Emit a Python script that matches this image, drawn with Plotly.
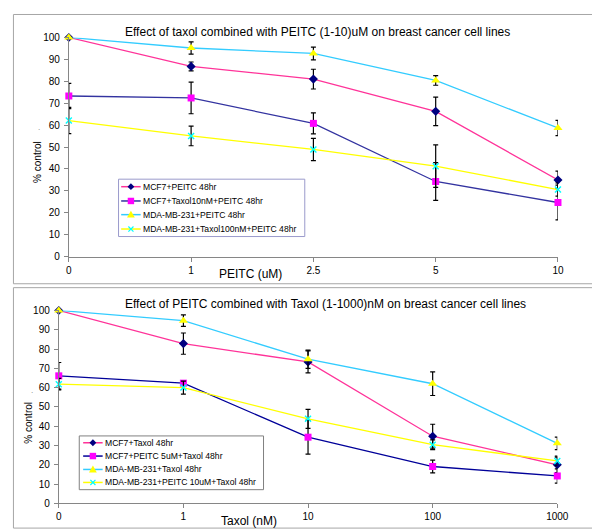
import plotly.graph_objects as go

W, H = 600, 530

# ---------------- data: top panel (PEITC dose) ----------------
top_x = ["0", "1", "2.5", "5", "10"]
top_names = ["MCF7+PEITC 48hr", "MCF7+Taxol10nM+PEITC 48hr",
             "MDA-MB-231+PEITC 48hr", "MDA-MB-231+Taxol100nM+PEITC 48hr"]
top_mcf7 = [100, 86.8, 81.0, 66.3, 35.0]
top_mcf7_err = [0, 2.0, 4.5, 6.5, 4.0]
top_mcf7_taxol = [73.3, 72.4, 60.8, 34.3, 24.7]
top_mcf7_taxol_err = [5.8, 7.2, 4.8, 8.6, 7.9]
top_mda = [100, 95.2, 92.7, 80.4, 58.7]
top_mda_err = [0, 2.8, 2.9, 2.2, 3.5]
top_mda_taxol = [62.1, 55.1, 48.9, 41.3, 30.6]
top_mda_taxol_err = [6.0, 4.5, 5.1, 9.7, 3.0]

# ---------------- data: bottom panel (Taxol dose) ----------------
bot_x = ["0", "1", "10", "100", "1000"]
bot_names = ["MCF7+Taxol 48hr", "MCF7+PEITC 5uM+Taxol 48hr",
             "MDA-MB-231+Taxol 48hr", "MDA-MB-231+PEITC 10uM+Taxol 48hr"]
bot_mcf7 = [100, 82.8, 73.3, 34.8, 20.0]
bot_mcf7_err = [0, 5.5, 5.7, 6.2, 4.0]
bot_mcf7_peitc = [66.1, 62.3, 34.3, 19.1, 14.2]
bot_mcf7_peitc_err = [6.9, 1.0, 8.8, 3.3, 3.7]
bot_mda = [100, 94.7, 74.7, 62.0, 31.1]
bot_mda_err = [0, 3.0, 4.7, 6.1, 3.2]
bot_mda_peitc = [61.8, 60.0, 43.8, 30.4, 22.0]
bot_mda_peitc_err = [3.0, 3.4, 4.9, 2.5, 2.5]

top_title = "Effect of taxol combined with PEITC (1-10)uM on breast cancer cell lines"
bot_title = "Effect of PEITC combined with Taxol (1-1000)nM on breast cancer cell lines"
top_xlabel = "PEITC (uM)"
bot_xlabel = "Taxol (nM)"
ylabel = "% control"

FONT = "Arial, Liberation Sans, sans-serif"
PINK = "#FF3399"
NAVY = "#000080"
MAGENTA = "#FF00FF"
CYAN_LINE = "#33CCFF"
YELLOW = "#FFFF00"
CYAN = "#00FFFF"
AXIS = "#868686"


def px(v):
    return v / W


def py(v):
    return 1 - v / H


styles_top = [
    dict(line=PINK, symbol="diamond", mcolor=NAVY, size=7),
    dict(line="#3333A0", symbol="square", mcolor=MAGENTA, size=7),
    dict(line=CYAN_LINE, symbol="triangle-up", mcolor=YELLOW, size=8),
    dict(line=YELLOW, symbol="x-thin", mcolor=CYAN, size=6),
]
styles_bot = [
    dict(line=PINK, symbol="diamond", mcolor=NAVY, size=7),
    dict(line="#000099", symbol="square", mcolor=MAGENTA, size=7),
    dict(line=CYAN_LINE, symbol="triangle-up", mcolor=YELLOW, size=8),
    dict(line=YELLOW, symbol="x-thin", mcolor=CYAN, size=6),
]

fig = go.Figure()


def add_series(x, y, err, name, st, xa, ya):
    mk = dict(symbol=st["symbol"], color=st["mcolor"], size=st["size"])
    if st["symbol"] == "x-thin":
        mk["line"] = dict(color=st["mcolor"], width=1.4)
    else:
        mk["line"] = dict(width=0)
    fig.add_trace(go.Scatter(
        x=x, y=y, name=name, mode="lines+markers", showlegend=False,
        line=dict(color=st["line"], width=1.3),
        marker=mk,
        error_y=dict(type="data", array=err, color="black", thickness=1.2, width=2.5),
        xaxis=xa, yaxis=ya, cliponaxis=False,
    ))


top_series = [top_mcf7, top_mcf7_taxol, top_mda, top_mda_taxol]
top_errs = [top_mcf7_err, top_mcf7_taxol_err, top_mda_err, top_mda_taxol_err]
for y, e, n, st in zip(top_series, top_errs, top_names, styles_top):
    add_series(top_x, y, e, n, st, "x", "y")

bot_series = [bot_mcf7, bot_mcf7_peitc, bot_mda, bot_mda_peitc]
bot_errs = [bot_mcf7_err, bot_mcf7_peitc_err, bot_mda_err, bot_mda_peitc_err]
for y, e, n, st in zip(bot_series, bot_errs, bot_names, styles_bot):
    add_series(bot_x, y, e, n, st, "x2", "y2")

shapes = []
annotations = []

# panel frames
for (x0, y0, x1, y1) in [(2.5, 0.5, 598.5, 276), (2.5, 280, 598.5, 526)]:
    shapes.append(dict(type="rect", xref="paper", yref="paper",
                       x0=px(x0), x1=px(x1), y0=py(y1), y1=py(y0),
                       line=dict(color="#A6A6A6", width=1), layer="below"))


def marker_path(sym, cx, cy):
    if sym == "diamond":
        r = 3.5
        pts = [(cx, cy - r), (cx + r, cy), (cx, cy + r), (cx - r, cy)]
    elif sym == "square":
        r = 3.3
        pts = [(cx - r, cy - r), (cx + r, cy - r), (cx + r, cy + r), (cx - r, cy + r)]
    elif sym == "triangle-up":
        pts = [(cx, cy - 4), (cx + 4, cy + 3), (cx - 4, cy + 3)]
    else:
        r = 2.6
        return ("M%.5f,%.5f L%.5f,%.5f M%.5f,%.5f L%.5f,%.5f" % (
            px(cx - r), py(cy - r), px(cx + r), py(cy + r),
            px(cx - r), py(cy + r), px(cx + r), py(cy - r)))
    return "M" + " L".join("%.5f,%.5f" % (px(a), py(b)) for a, b in pts) + " Z"


def add_legend(box, rows, lx0, lx1, tx, names, styles, border):
    x0, y0, x1, y1 = box
    shapes.append(dict(type="rect", xref="paper", yref="paper",
                       x0=px(x0), x1=px(x1), y0=py(y1), y1=py(y0),
                       line=dict(color=border, width=1), fillcolor="white", layer="above"))
    for ry, name, st in zip(rows, names, styles):
        shapes.append(dict(type="line", xref="paper", yref="paper",
                           x0=px(lx0), x1=px(lx1), y0=py(ry), y1=py(ry),
                           line=dict(color=st["line"], width=1.5), layer="above"))
        cx = (lx0 + lx1) / 2
        if st["symbol"] == "x-thin":
            shapes.append(dict(type="path", xref="paper", yref="paper",
                               path=marker_path(st["symbol"], cx, ry),
                               line=dict(color=st["mcolor"], width=1.2), layer="above"))
        else:
            shapes.append(dict(type="path", xref="paper", yref="paper",
                               path=marker_path(st["symbol"], cx, ry),
                               line=dict(width=0), fillcolor=st["mcolor"], layer="above"))
        annotations.append(dict(text=name, xref="paper", yref="paper", x=px(tx), y=py(ry),
                                xanchor="left", yanchor="middle", showarrow=False,
                                borderpad=0, font=dict(size=8.6, color="black", family=FONT)))


add_legend((110.3, 169, 301.3, 227.7), [176.7, 191.3, 205.3, 220.0], 113, 133, 134.5,
           top_names, styles_top, "#9A9ACC")
add_legend((70, 431.7, 259, 486.7), [438.7, 452.3, 466.0, 479.3], 74, 94, 95.2,
           bot_names, styles_bot, "#808080")


def text(t, x, y, size, angle=0, color="black"):
    annotations.append(dict(text=t, xref="paper", yref="paper", x=px(x), y=py(y),
                            xanchor="center", yanchor="middle", showarrow=False,
                            textangle=angle, font=dict(size=size, color=color, family=FONT)))


text(top_title, 314, 18.3, 12)
text(bot_title, 322.5, 296.7, 12)
text(top_xlabel, 245.5, 266.5, 12)
text(bot_xlabel, 244, 518.3, 12)
text(ylabel, 27.3, 151.7, 10, -90)
text(ylabel, 18.3, 418.3, 10, -90)
text(".", 29, 116, 8, 0, "#777777")
text(".", 21.7, 385, 8, 0, "#777777")

axis_common = dict(showline=True, linecolor=AXIS, linewidth=1, ticks="outside", ticklen=4,
                   tickcolor=AXIS, tickwidth=1, showgrid=False, zeroline=False,
                   tickfont=dict(size=10, color="black", family=FONT))

fig.update_layout(
    width=W, height=H, margin=dict(l=0, r=0, t=0, b=0),
    paper_bgcolor="white", plot_bgcolor="white",
    font=dict(family=FONT, color="black"),
    showlegend=False,
    xaxis=dict(domain=[px(59.3), px(561)], type="category", categoryorder="array",
               categoryarray=top_x, range=[0, 4], anchor="y", **axis_common),
    yaxis=dict(domain=[py(248.3), py(24)], range=[0, 100], dtick=10, anchor="x",
               ticklabelstandoff=2, **axis_common),
    xaxis2=dict(domain=[px(49), px(560.3)], type="category", categoryorder="array",
                categoryarray=bot_x, range=[0, 4], anchor="y2", **axis_common),
    yaxis2=dict(domain=[py(500.7), py(303.3)], range=[0, 100], dtick=10, anchor="x2",
                ticklabelstandoff=2, **axis_common),
    shapes=shapes, annotations=annotations,
)

fig.write_html("out.html")
